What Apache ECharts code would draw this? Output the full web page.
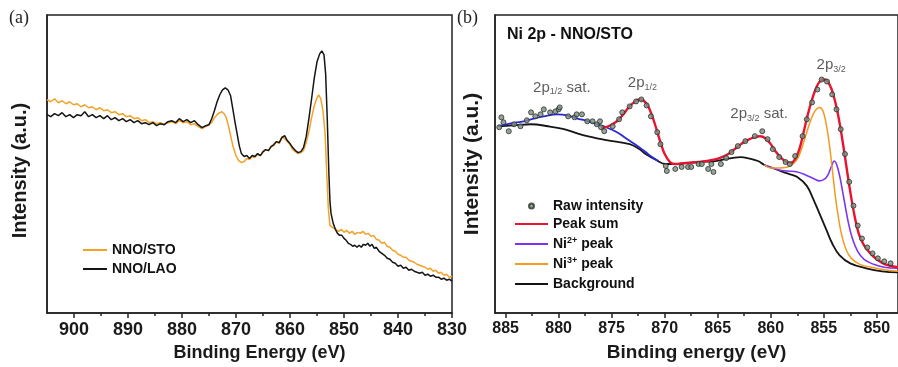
<!DOCTYPE html>
<html><head><meta charset="utf-8">
<script src="https://cdn.jsdelivr.net/npm/echarts@6/dist/echarts.min.js"></script>
<style>html,body{margin:0;padding:0;background:#fff}#c{width:898px;height:367px}</style>
</head><body><div id="c"></div>
<script>
// ---------- Panel (a): survey of Ni 2p, [binding energy eV, intensity a.u.] ----------
const aSTO = [[905,214],[904.3,212],[903.6,215],[902.9,211],[902.2,213],[901.5,210],[900.8,212],[900.1,209],[899.4,210],[898.7,207],[898,209],[897.3,206],[896.6,207],[895.9,204],[895.2,206],[894.5,203],[893.8,204],[893.1,201],[892.4,202],[891.7,199],[891,200],[890.3,197],[889.6,198],[888.9,195],[888.2,196],[887.5,193],[886.8,194],[886.1,191],[885.4,192],[884.7,190],[884,191],[883.3,189],[882.6,191],[881.9,192],[881.2,190],[880.5,193],[879.8,191],[879.1,192],[878.4,189],[877.7,190],[877,187],[876.3,185],[875.6,187],[875,189],
[874.5,191],[874,196],[873.5,199],[873,201],[872.6,202],[872.2,200],[871.8,196],[871.4,188],[871,178],[870.5,166],[870,158],[869.5,153],[869,151],[868.5,152],[868,155],[867.5,154],[867,157],[866.5,156],[866,159],[865.5,158],[865,161],[864.5,164],[864,163],[863.5,167],[863,168],[862.5,172],[862,170],[861.5,177],[861,175],[860.5,172],[860,169],[859.5,164],[859,162],[858.5,160],[858,161],[857.5,163],[857,171],[856.5,182],[856,196],[855.5,208],[855,216],[854.7,219],[854.3,215],[853.9,203],[853.5,180],[853.2,140],[852.9,105],[852.6,88],[852.2,86],[851.8,85],
[851.5,85],[851,82],[850.5,84],[850,81],[849.5,83],[849,80],[848.5,82],[848,79],[847.5,81],[847,80],[846.5,82],[846,79],[845.5,80],[845,77],[844.5,78],[844,74],[843.5,73],[843,70],[842.5,71],[842,67],[841.5,66],[841,63],[840.5,62],[840,59],[839.5,58],[839,56],[838.5,56],[838,53],[837.5,52],[837,51],[836.5,49],[836,48],[835.5,47],[835,46],[834.5,44],[834,45],[833.5,42],[833,43],[832.5,40],[832,41],[831.5,38],[831,39],[830.5,36],[830,37]];
const aLAO = [[905,199],[904.3,197],[903.6,200],[902.9,198],[902.2,201],[901.5,197],[900.8,199],[900.1,196],[899.4,199],[898.7,198],[898,202],[897.3,197],[896.6,199],[895.9,196],[895.2,198],[894.5,195],[893.8,198],[893.1,194],[892.4,196],[891.7,193],[891,195],[890.3,192],[889.6,194],[888.9,191],[888.2,193],[887.5,190],[886.8,191],[886.1,189],[885.4,191],[884.7,188],[884,190],[883.3,189],[882.6,192],[881.9,193],[881.2,191],[880.5,195],[879.8,192],[879.1,194],[878.4,191],[877.7,193],[877,189],[876.3,186],[875.6,188],[875,189],
[874.5,195],[874,203],[873.5,212],[873,219],[872.5,224],[872,226],[871.5,224],[871,218],[870.6,205],[870.2,192],[869.8,180],[869.4,168],[869,160],[868.5,157],[868,158],[867.5,155],[867,158],[866.5,157],[866,160],[865.5,158],[865,162],[864.5,164],[864,163],[863.5,167],[863,169],[862.5,172],[862,171],[861.5,176],[861,178],[860.5,173],[860,170],[859.5,166],[859,163],[858.5,161],[858,162],[857.5,166],[857,177],[856.5,195],[856,215],[855.5,236],[855,252],[854.5,260],[854.1,263],[853.7,259],[853.4,240],[853.1,195],[852.8,140],[852.6,112],
[852.4,100],[852,90],[851.6,84],[851.2,80],[850.8,78],[850.4,78],[850,75],[849.6,73],[849.2,70],[848.8,69],[848.4,67],[848,68],[847.6,66],[847.2,68],[846.8,66],[846.4,69],[846,68],[845.6,70],[845.2,67],[844.8,69],[844.4,65],[844,66],[843.5,62],[843,60],[842.5,58],[842,55],[841.5,54],[841,51],[840.5,50],[840,47],[839.5,48],[839,45],[838.5,46],[838,43],[837.5,44],[837,42],[836.5,41],[836,40],[835.5,41],[835,38],[834.5,39],[834,37],[833.5,38],[833,36],[832.5,36],[832,34],[831.5,35],[831,33],[830.5,34],[830,32]];
const aMajorTicks = [830,840,850,860,870,880,890,900];
const aMinorTicks = [835,845,855,865,875,885,895];

// ---------- Panel (b): Ni 2p fit for NNO/STO ----------
const bRaw = [[885.6,187],[885.4,197],[885.2,192],[884.7,183],[884.2,190],[883.6,188],[883.0,194],[882.6,202],[882.2,198],[881.7,200],[881.4,205],[880.8,202],[880.3,203],[880.0,205],[879.9,207],[879.1,198],[878.5,197],[878.3,200],[877.8,200],[877.3,193],[876.8,193],[876.4,190],[876.1,193],[876.0,187],[875.7,183],[874.9,188],[874.3,195],[874.0,202],[873.3,208],[872.7,213],[872.2,215],[871.7,209],[871.3,198],[870.7,182],[870.4,170],[869.9,148],[869.8,143],[869.0,145],[868.4,147],[867.8,147],[867.5,147],[866.8,150],[866.5,150],[865.9,145],[865.6,150],[865.4,142],[864.7,150],[864.2,156],[863.7,162],[863.1,168],[862.4,173],[861.5,178],[860.8,183],[860.3,175],[859.8,165],[859.2,157],[858.6,152],[858.2,150],[857.7,158],[857.0,178],[856.6,195],[856.1,212],[855.6,225],[855.2,235],[854.7,233],[854.2,220],[853.8,205],[853.4,185],[853.0,160],[852.6,132],[852.2,108],[851.8,88],[851.4,75],[850.9,66],[850.4,60],[849.9,55],[849.3,52],[848.7,50]];
const bPeakSum = [[876.0,186],[875.3,188],[874.5,193],[873.9,200],[873.4,207],[872.9,212],[872.4,215],[872.0,214],[871.6,209],[871.2,199],[870.8,186],[870.4,172],[870.0,160],[869.5,152],[869.0,150],[868.0,151],[866.8,152],[865.5,154],[864.6,157],[864.0,160],[863.4,165],[862.8,170],[862.2,174],[861.5,177],[861.0,178],[860.5,176],[860.0,170],[859.5,162],[859.0,156],[858.5,152],[858.1,151],[857.7,155],[857.3,165],[856.9,182],[856.5,200],[856.1,215],[855.7,227],[855.3,234],[854.9,235],[854.5,231],[854.1,220],[853.7,202],[853.3,178],[852.9,150],[852.5,122],[852.1,98],[851.7,80],[851.2,68],[850.6,60],[850.0,54],[849.2,49],[848.0,46]];
const bNi2 = [[860.6,149],[859.8,146],[859.2,144],[858.4,143],[857.5,142],[856.7,139],[855.9,135],[855.4,133],[854.9,135],[854.6,139],[854.3,147],[854.0,153],[853.8,150],[853.5,138],[853.1,115],[852.7,92],[852.3,75],[851.8,62],[851.2,54],[850.3,49],[849.3,46],[848.0,45]];
const bNi2Sat = [[885.7,188],[884.5,191],[883.3,193],[882.6,195],[881.4,198],[880.1,200],[879.2,199],[878.3,196],[877.2,193],[876.1,189],[875.3,186],[874.5,182],[873.8,177],[873.1,172],[872.4,167],[871.8,162],[871.2,157],[870.6,153]];
const bNi3 = [[860.6,149],[860.0,146],[859.2,146],[858.4,147],[857.9,150],[857.5,155],[857.2,162],[856.9,172],[856.6,182],[856.3,192],[856.0,200],[855.7,205],[855.4,207],[855.1,204],[854.8,192],[854.5,172],[854.2,145],[853.9,117],[853.6,95],[853.3,78],[852.9,64],[852.4,55],[851.6,49],[850.5,46],[849.0,43],[848.0,42]];
const bBackground = [[885.6,188],[884.2,189],[882.6,190],[881.0,188],[879.5,185],[877.7,179],[875.5,174],[873.3,170],[872.4,165],[871.8,160],[870.8,154],[869.9,150],[869.0,150],[868.0,151],[866.8,152],[865.2,153],[863.7,156],[862.8,157],[862.2,156],[861.2,153],[860.6,149],[859.8,146],[859.1,143],[858.3,140],[857.5,137],[856.6,128],[856.0,115],[855.4,100],[854.8,85],[854.2,70],[853.5,58],[852.5,50],[851.0,45],[849.5,42],[848.0,41]];
const bPeakLabels = [[879.7,227,'{m|2p}{s|1/2}{m| sat.}'],[872.1,232,'{m|2p}{s|1/2}'],[861.1,200,'{m|2p}{s|3/2}{m| sat.}'],[854.3,250,'{m|2p}{s|3/2}']];
const bMajorTicks = [850,855,860,865,870,875,880,885];
const bMinorTicks = [852.5,857.5,862.5,867.5,872.5,877.5,882.5];

const FONT = 'Liberation Sans, Arial, sans-serif';
const chart = echarts.init(document.getElementById('c'), null, {renderer:'canvas'});

function xMain(grid, min, max, ticks, labelSize, name, nameSize, namePad){
  return {type:'value', gridIndex:grid, min:min, max:max, inverse:true, position:'bottom',
    axisLine:{show:true, onZero:false, lineStyle:{color:'#222', width:1.5}},
    axisTick:{show:true, customValues:ticks, length:5, inside:false, lineStyle:{color:'#222', width:1.5}},
    axisLabel:{show:true, customValues:ticks, margin:8, fontSize:labelSize, fontWeight:'bold', color:'#1a1a1a', fontFamily:FONT},
    splitLine:{show:false},
    name:name, nameLocation:'middle', nameGap:30,
    nameTextStyle:{fontSize:nameSize, fontWeight:'bold', color:'#1a1a1a', fontFamily:FONT, padding:namePad}};
}
function xMinor(grid, min, max, ticks){
  return {type:'value', gridIndex:grid, min:min, max:max, inverse:true, position:'bottom',
    axisLine:{show:false, onZero:false},
    axisTick:{show:true, customValues:ticks, length:3, inside:false, lineStyle:{color:'#222', width:1.5}},
    axisLabel:{show:false}, splitLine:{show:false}};
}
function yAx(grid, max, nameSize, gap, pad){
  return {type:'value', gridIndex:grid, min:0, max:max,
    axisLine:{show:true, onZero:false, lineStyle:{color:'#222', width:1.5}},
    axisTick:{show:false}, axisLabel:{show:false}, splitLine:{show:false},
    name:'Intensity (a.u.)', nameLocation:'middle', nameGap:gap,
    nameTextStyle:{fontSize:nameSize, fontWeight:'bold', color:'#1a1a1a', fontFamily:FONT, padding:pad}};
}
function lineS(name, data, xi, yi, color, width, smooth){
  return {name:name, type:'line', data:data, xAxisIndex:xi, yAxisIndex:yi, symbol:'none', showSymbol:false, smooth:smooth,
    lineStyle:{color:color, width:width}, itemStyle:{color:color}, z:2, silent:true};
}
const legendText = {fontSize:14, fontWeight:'bold', color:'#111', fontFamily:FONT, lineHeight:16};
function li(name){ return {name:name, icon:'rect'}; }

chart.setOption({
  animation:false,
  backgroundColor:'#fff',
  title:[
    {text:'(a)', left:9, top:9, padding:0, textStyle:{fontFamily:'Liberation Serif, Times New Roman, serif', fontSize:18, fontWeight:'normal', color:'#222'}},
    {text:'(b)', left:457, top:9, padding:0, textStyle:{fontFamily:'Liberation Serif, Times New Roman, serif', fontSize:18, fontWeight:'normal', color:'#222'}},
    {text:'Ni 2p - NNO/STO', left:507, top:27, padding:0, textStyle:{fontFamily:FONT, fontSize:16, fontWeight:'bold', color:'#111'}}
  ],
  grid:[
    {left:47, right:446, top:15, bottom:53, show:true, borderColor:'#222', borderWidth:1.5},
    {left:495, right:-4, top:15, bottom:52, show:true, borderColor:'#222', borderWidth:1.5}
  ],
  xAxis:[
    xMain(0, 830, 905, aMajorTicks, 18, 'Binding Energy (eV)', 18, [0,0,0,20]),
    xMinor(0, 830, 905, aMinorTicks),
    xMain(1, 848, 886, bMajorTicks, 16, 'Binding energy (eV)', 19, 0),
    xMinor(1, 848, 886, bMinorTicks)
  ],
  yAxis:[ yAx(0, 299, 20, 16.5, [0,13,0,0]), yAx(1, 300, 21, 12.5, [0,0,0,0]) ],
  legend:[
    {data:[li('NNO/STO'),li('NNO/LAO')], orient:'vertical', left:83, top:242, padding:0, itemWidth:24, itemHeight:2, itemGap:3, selectedMode:false, textStyle:legendText},
    {data:['Raw intensity'], orient:'vertical', left:528, top:198, padding:0, itemWidth:33, itemHeight:5, selectedMode:false, textStyle:legendText},
    {data:[li('Peak sum'),li('Ni2+ peak'),li('Ni3+ peak'),li('Background')], orient:'vertical', left:515, top:216, padding:0, itemWidth:33, itemHeight:2.2, itemGap:4, selectedMode:false,
     formatter:function(n){return n.replace(/Ni(\d\+)/, 'Ni{sup|$1}');},
     textStyle:Object.assign({}, legendText, {rich:{sup:{fontSize:9, fontWeight:'bold', color:'#111', fontFamily:FONT, verticalAlign:'top', lineHeight:10}}})}
  ],
  series:[
    lineS('NNO/STO', aSTO, 0, 0, '#F3A22A', 1.5, false),
    lineS('NNO/LAO', aLAO, 0, 0, '#151515', 1.5, false),
    lineS('Background', bBackground, 2, 1, '#151515', 1.8, 0.4),
    lineS('Ni2+ sat', bNi2Sat, 2, 1, '#2828D8', 1.8, 0.4),
    lineS('Ni2+ peak', bNi2, 2, 1, '#7B34F0', 1.6, 0.4),
    lineS('Ni3+ peak', bNi3, 2, 1, '#F49A1E', 1.5, 0.4),
    lineS('Peak sum', bPeakSum, 2, 1, '#E8132E', 2.4, 0.4),
    {name:'Raw intensity', type:'scatter', data:bRaw, xAxisIndex:2, yAxisIndex:1, symbol:'circle', symbolSize:5, z:3, silent:true,
     itemStyle:{color:'#7f8c80', borderColor:'#26322a', borderWidth:1}},
    {name:'labels', type:'scatter', xAxisIndex:2, yAxisIndex:1, symbolSize:0, z:4, silent:true,
     data:bPeakLabels.map(function(p){return [p[0],p[1]];}),
     label:{show:true, position:'inside', color:'#333', fontFamily:FONT,
       formatter:function(params){return bPeakLabels[params.dataIndex][2];},
       rich:{m:{fontSize:15, color:'#333', fontFamily:FONT, lineHeight:18, verticalAlign:'middle'}, s:{fontSize:9, color:'#333', fontFamily:FONT, lineHeight:18, verticalAlign:'bottom'}}}}
  ]
});
</script>
</body></html>
